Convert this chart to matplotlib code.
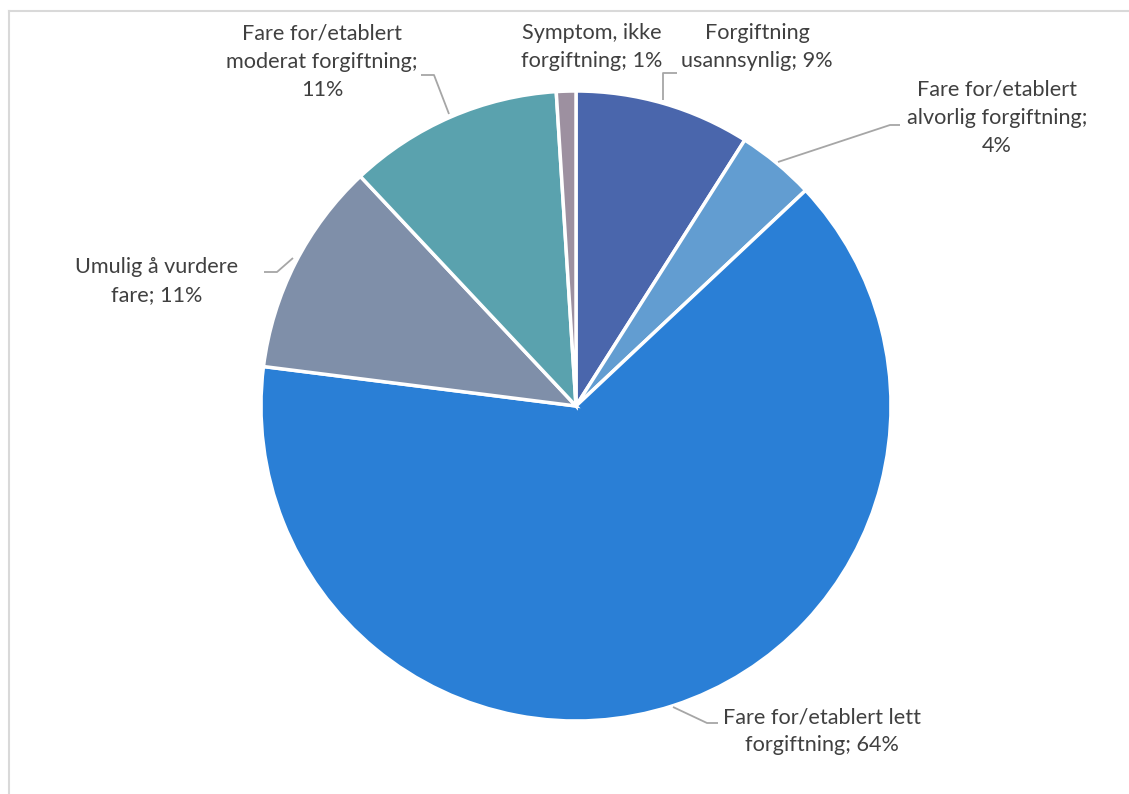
import matplotlib
matplotlib.use("Agg")
import matplotlib.pyplot as plt
from matplotlib.lines import Line2D

categories = [
    "Forgiftning usannsynlig",
    "Fare for/etablert alvorlig forgiftning",
    "Fare for/etablert lett forgiftning",
    "Umulig å vurdere fare",
    "Fare for/etablert moderat forgiftning",
    "Symptom, ikke forgiftning",
]
shares = [9, 4, 64, 11, 11, 1]
colors = ["#4A66AC", "#629DD1", "#2A7FD6", "#7F8FA9", "#5AA2AE", "#9D90A0"]

label_texts = [
    "Forgiftning\nusannsynlig; {}%",
    "Fare for/etablert\nalvorlig forgiftning;\n{}%",
    "Fare for/etablert lett\nforgiftning; {}%",
    "Umulig å vurdere\nfare; {}%",
    "Fare for/etablert\nmoderat forgiftning;\n{}%",
    "Symptom, ikke\nforgiftning; {}%",
]
# label centres in pixel coordinates
label_pos = [(757, 47), (997, 118), (822, 731), (157, 281), (322, 62), (592, 47)]
# leader polylines in pixel coordinates (None = no leader)
leaders = [
    [(663, 100), (663, 73), (677, 73)],
    [(778, 162), (890, 125), (900, 125)],
    [(673, 707), (707, 723), (718, 723)],
    [(293, 258), (277, 272), (264, 272)],
    [(449, 114), (434, 75), (421, 75)],
    None,
]

W, H = 1129, 794
fig = plt.figure(figsize=(W / 100, H / 100), dpi=100)
ax = fig.add_axes([0, 0, 1, 1])

# y axis runs downward, so a counter-clockwise sweep from -90 reads clockwise from 12 o'clock
ax.pie(shares, colors=colors, startangle=-90, counterclock=True,
       center=(576, 406), radius=315, frame=True,
       wedgeprops=dict(edgecolor="white", linewidth=2.5))
ax.set_xlim(0, W)
ax.set_ylim(H, 0)
ax.set_aspect("equal")
ax.axis("off")

font = ["Lato", "DejaVu Sans"]
for txt, v, (x, y) in zip(label_texts, shares, label_pos):
    ax.text(x, y, txt.format(v), ha="center", va="center", fontsize=15.6,
            color="#404040", family=font, linespacing=1.5)

for pts in leaders:
    if pts is None:
        continue
    xs, ys = zip(*pts)
    ax.plot(xs, ys, color="#A6A6A6", linewidth=1.3, solid_capstyle="butt")

# chart frame (left and top edges)
fig.add_artist(Line2D([8.5 / W, 8.5 / W], [0, 1 - 11 / H], color="#D9D9D9", linewidth=1.5))
fig.add_artist(Line2D([8.5 / W, 1], [1 - 11 / H, 1 - 11 / H], color="#D9D9D9", linewidth=1.5))

fig.savefig("out.png", dpi=100, facecolor="white")
